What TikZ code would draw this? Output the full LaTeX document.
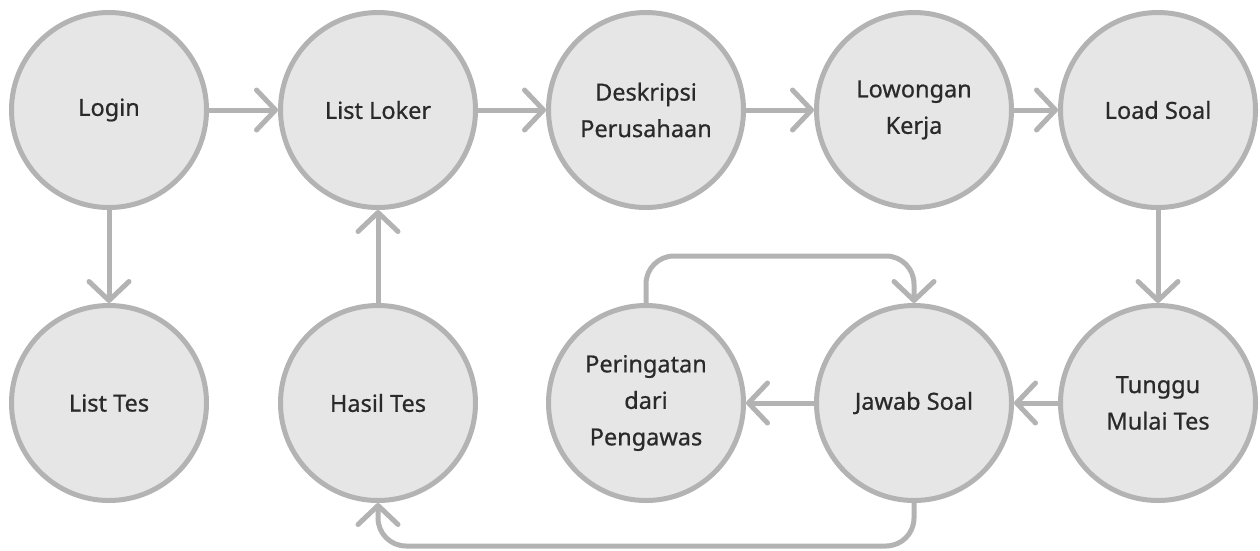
\documentclass[tikz,border=0pt]{standalone}
\usepackage{fontspec}
\setmainfont{Noto Sans}[FakeBold=0.7]
\usetikzlibrary{arrows.meta}
\definecolor{nodefill}{HTML}{E6E6E6}
\definecolor{edge}{HTML}{B3B3B3}
\definecolor{txt}{HTML}{2A2A2A}
\tikzset{
  state/.style={circle, draw=edge, fill=nodefill, line width=5pt, minimum size=195pt, inner sep=0pt,
    align=center, text=txt, font=\fontsize{23.5pt}{36.5pt}\selectfont},
  arr/.style={draw=edge, line width=5pt, line cap=round,
    -{Straight Barb[length=19pt, width=40pt, round]}},
}
\begin{document}
\begin{tikzpicture}[x=1pt, y=-1pt]
\useasboundingbox (0,0) rectangle (1260,550);
\node[state] (login) at (109,110) {Login};
\node[state] (loker) at (378,110) {List Loker};
\node[state] (desk) at (646,110) {Deskripsi\\Perusahaan};
\node[state] (low) at (914,110) {Lowongan\\Kerja};
\node[state] (load) at (1158,110) {Load Soal};
\node[state] (tes) at (109,403) {List Tes};
\node[state] (hasil) at (378,403) {Hasil Tes};
\node[state] (per) at (646,403) {Peringatan\\dari\\Pengawas};
\node[state] (jaw) at (914,403) {Jawab Soal};
\node[state] (tung) at (1158,403) {Tunggu\\Mulai Tes};
\draw[arr] (login) -- (loker);
\draw[arr] (loker) -- (desk);
\draw[arr] (desk) -- (low);
\draw[arr] (low) -- (load);
\draw[arr] (login) -- (tes);
\draw[arr] (hasil) -- (loker);
\draw[arr] (load) -- (tung);
\draw[arr] (tung) -- (jaw);
\draw[arr] (jaw) -- (per);
\draw[arr, rounded corners=28pt] (per.north) -- (646,256) -- (914,256) -- (jaw.north);
\draw[arr, rounded corners=28pt] (jaw.south) -- (914,546) -- (378,546) -- (hasil.south);
\end{tikzpicture}
\end{document}
